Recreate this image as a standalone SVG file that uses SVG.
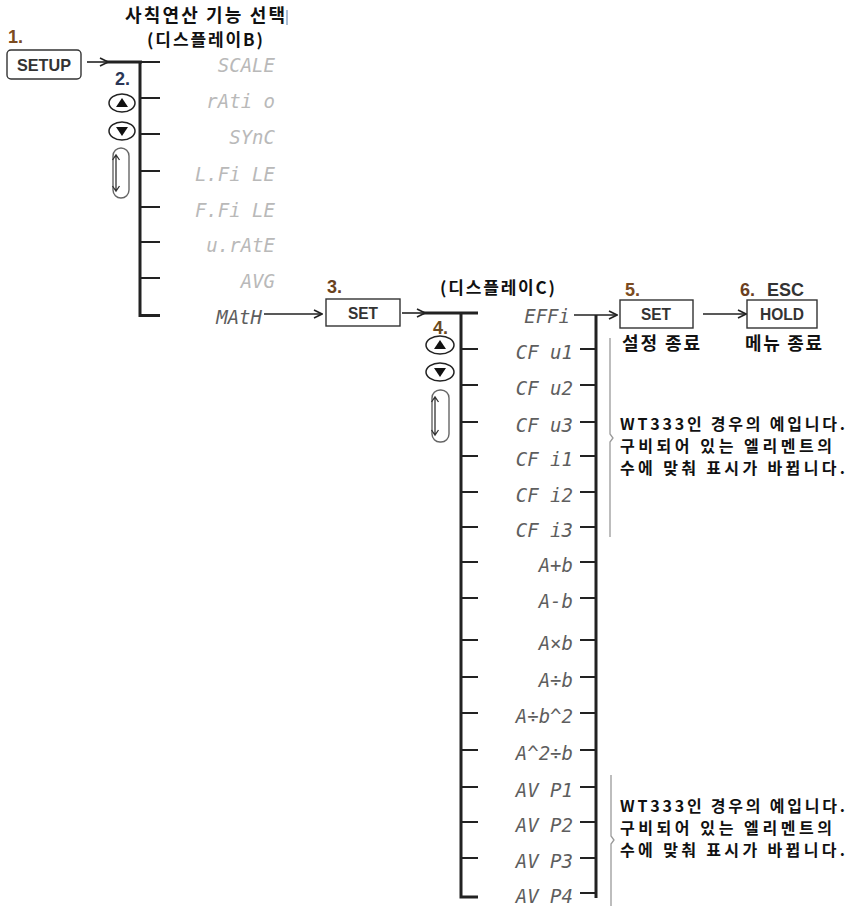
<svg xmlns="http://www.w3.org/2000/svg" width="847" height="906" viewBox="0 0 847 906">
<defs>
<marker id="ah" viewBox="0 0 10 10" refX="9" refY="5" markerWidth="10" markerHeight="10" markerUnits="userSpaceOnUse" orient="auto">
<path d="M1,1 L9,5 L1,9" fill="none" stroke="#222" stroke-width="1.6"/>
</marker>
<style>
.kr{font-family:"Noto Sans CJK KR","Noto Sans",sans-serif;font-weight:bold;fill:#111}
.num{font-family:"Liberation Sans",Arial,sans-serif;font-weight:bold;font-size:18px}
.key{font-family:"Liberation Sans",Arial,sans-serif;font-weight:bold;font-size:17px;fill:#333;text-anchor:middle}
.box{fill:#fff;stroke:#333;stroke-width:1.4}
.segB{font-family:"DejaVu Sans Mono",monospace;font-style:oblique;font-size:19px;fill:#b9b9b9;text-anchor:end}
.segC{font-family:"DejaVu Sans Mono",monospace;font-style:oblique;font-size:19px;fill:#5e5e5e;text-anchor:end}
.thick{stroke:#222;stroke-width:3;fill:none}
.tick{stroke:#222;stroke-width:2;fill:none}
.arr{stroke:#222;stroke-width:1.6;fill:none}
.brace{stroke:#9a9a9a;stroke-width:1.3;fill:none}
.btn{fill:#fff;stroke:#222;stroke-width:1.5}
.loop{fill:none;stroke:#666;stroke-width:1.4}
.cyc{fill:none;stroke:#333;stroke-width:1.3}
.note{font-size:16px}
</style>
</defs>

<g id="title-b">
<text class="kr" x="125" y="22" font-size="18" textLength="160">사칙연산 기능 선택</text>
<line x1="287" y1="10" x2="287" y2="25" stroke="#8fa8c8" stroke-width="1.5"/>
<text class="kr" x="147" y="46" font-size="17" textLength="116">(디스플레이B)</text>
</g>

<g id="step1">
<text class="num" x="8" y="43" fill="#7b4b21">1.</text>
<rect class="box" x="7" y="50" width="74" height="29" rx="4"/>
<text class="key" x="44" y="71" textLength="54" lengthAdjust="spacingAndGlyphs">SETUP</text>
</g>

<g id="step2">
<text class="num" x="115" y="85" fill="#2b3656">2.</text>
<ellipse class="btn" cx="122" cy="103" rx="13" ry="9"/>
<path d="M116,107 L128,107 L122,98 Z" fill="#111"/>
<ellipse class="btn" cx="122" cy="131" rx="13" ry="9"/>
<path d="M116,127 L128,127 L122,136 Z" fill="#111"/>
<rect class="loop" x="113" y="148" width="16" height="50" rx="8"/>
<path class="cyc" d="M116,155 V191 M112.5,160 L116,155 L119.5,160 M112.5,186 L116,191 L119.5,186"/>
</g>

<g id="menu-b">
<text class="segB" x="275" y="72">SCALE</text>
<text class="segB" x="275" y="108">rAti o</text>
<text class="segB" x="275" y="144">SYnC</text>
<text class="segB" x="275" y="181">L.Fi LE</text>
<text class="segB" x="275" y="217">F.Fi LE</text>
<text class="segB" x="275" y="252">u.rAtE</text>
<text class="segB" x="275" y="288">AVG</text>
<text class="segC" x="262" y="324" fill="#444">MAtH</text>
</g>

<g id="step3">
<text class="num" x="327" y="293" fill="#6a421d">3.</text>
<rect class="box" x="326" y="299" width="74" height="27"/>
<text class="key" x="363" y="319" textLength="30" lengthAdjust="spacingAndGlyphs">SET</text>
</g>

<g id="title-c">
<text class="kr" x="440" y="294" font-size="17" textLength="115">(디스플레이C)</text>
</g>

<g id="step4">
<text class="num" x="433" y="334" fill="#6a4a20">4.</text>
<ellipse class="btn" cx="440" cy="345" rx="14" ry="9"/>
<path d="M434,349 L446,349 L440,340 Z" fill="#111"/>
<ellipse class="btn" cx="440" cy="372" rx="14" ry="9"/>
<path d="M434,368 L446,368 L440,377 Z" fill="#111"/>
<rect class="loop" x="432" y="390" width="17" height="52" rx="8"/>
<path class="cyc" d="M435,397 V435 M431.5,402 L435,397 L438.5,402 M431.5,430 L435,435 L438.5,430"/>
</g>

<g id="menu-c">
<text class="segC" x="570" y="323">EFFi</text>
<text class="segC" x="573" y="359">CF  u1</text>
<text class="segC" x="573" y="395">CF  u2</text>
<text class="segC" x="573" y="432">CF  u3</text>
<text class="segC" x="573" y="466">CF  i1</text>
<text class="segC" x="573" y="502">CF  i2</text>
<text class="segC" x="573" y="537">CF  i3</text>
<text class="segC" x="573" y="572">A+b</text>
<text class="segC" x="573" y="608">A-b</text>
<text class="segC" x="573" y="650">A×b</text>
<text class="segC" x="573" y="687">A÷b</text>
<text class="segC" x="573" y="723">A÷b^2</text>
<text class="segC" x="573" y="760">A^2÷b</text>
<text class="segC" x="573" y="797">AV  P1</text>
<text class="segC" x="573" y="832">AV  P2</text>
<text class="segC" x="573" y="868">AV  P3</text>
<text class="segC" x="573" y="903">AV  P4</text>
</g>

<g id="step5">
<text class="num" x="625" y="296" fill="#7b4b21">5.</text>
<rect class="box" x="620" y="300" width="73" height="28"/>
<text class="key" x="656" y="320" textLength="30" lengthAdjust="spacingAndGlyphs">SET</text>
<text class="kr" x="622" y="350" font-size="18" textLength="78">설정 종료</text>
</g>

<g id="step6">
<text class="num" x="740" y="296" fill="#6a3f22">6.</text>
<text class="num" x="767" y="296" fill="#333" font-size="16">ESC</text>
<rect class="box" x="747" y="300" width="70" height="28"/>
<text class="key" x="782" y="320" textLength="44" lengthAdjust="spacingAndGlyphs">HOLD</text>
<text class="kr" x="745" y="350" font-size="18" textLength="77">메뉴 종료</text>
</g>

<g id="note-1">
<path class="brace" d="M610,338 L610,434 L613,438 L610,442 L610,537"/>
<text class="kr note" x="620" y="430" textLength="225">WT333인 경우의 예입니다.</text>
<text class="kr note" x="620" y="452" textLength="212">구비되어 있는 엘리멘트의</text>
<text class="kr note" x="620" y="474" textLength="225">수에 맞춰 표시가 바뀝니다.</text>
</g>

<g id="note-2">
<path class="brace" d="M611,775 L611,836 L614,840 L611,844 L611,906"/>
<text class="kr note" x="620" y="812" textLength="225">WT333인 경우의 예입니다.</text>
<text class="kr note" x="620" y="834" textLength="212">구비되어 있는 엘리멘트의</text>
<text class="kr note" x="620" y="856" textLength="225">수에 맞춰 표시가 바뀝니다.</text>
</g>

<g id="connectors">
<path class="arr" d="M87,62 H108" marker-end="url(#ah)"/>
<path class="thick" d="M106,62 H142" stroke-width="2.5"/>
<path class="thick" d="M140,62 V315.5 H160"/>
<path class="tick" stroke-width="1.6" d="M140,62 H160 M140,98 H160 M140,134 H160 M140,171 H160 M140,207 H160 M140,242 H160 M140,278 H160"/>
<path class="arr" d="M264,314 H322" marker-end="url(#ah)"/>
<path class="arr" d="M402,313 H425" marker-end="url(#ah)"/>
<path class="thick" d="M423,313 H478" stroke-width="2.5"/>
<path class="thick" d="M461,313 V897 H478"/>
<path class="tick" stroke-width="2.5" d="M461,349 H478 M461,385 H478 M461,422 H478 M461,456 H478 M461,492 H478 M461,527 H478 M461,562 H478 M461,598 H478 M461,640 H478 M461,677 H478 M461,713 H478 M461,750 H478 M461,787 H478 M461,822 H478 M461,858 H478"/>
<path class="thick" d="M596,315 V898"/>
<path class="tick" stroke-width="2.5" d="M580,349 H596 M580,385 H596 M580,422 H596 M580,456 H596 M580,492 H596 M580,527 H596 M580,562 H596 M580,598 H596 M580,640 H596 M580,677 H596 M580,713 H596 M580,750 H596 M580,787 H596 M580,822 H596 M580,858 H596 M580,893 H596"/>
<path class="arr" d="M574,315 H617" marker-end="url(#ah)"/>
<path class="arr" d="M703,314 H746" marker-end="url(#ah)"/>
</g>
</svg>
